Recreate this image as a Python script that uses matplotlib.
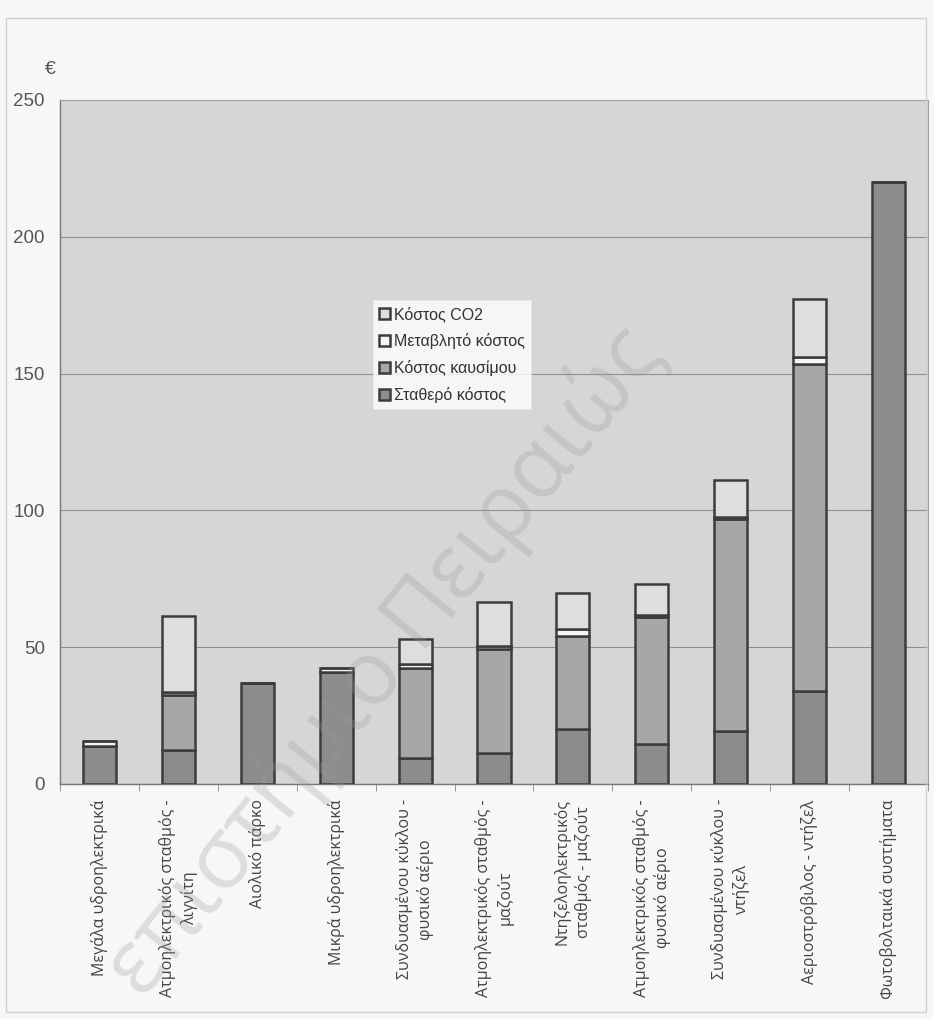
import matplotlib
matplotlib.use("Agg")
import matplotlib.pyplot as plt
import numpy as np
from matplotlib.patches import Rectangle

# Cost components (€) per generation technology
categories = [
    "Μεγάλα υδροηλεκτρικά",
    "Ατμοηλεκτρικός σταθμός -\nλιγνίτη",
    "Αιολικό πάρκο",
    "Μικρά υδροηλεκτρικά",
    "Συνδυασμένου κύκλου -\nφυσικό αέριο",
    "Ατμοηλεκτρικός σταθμός -\nμαζούτ",
    "Ντηζελοηλεκτρικός\nσταθμός - μαζούτ",
    "Ατμοηλεκτρικός σταθμός -\nφυσικό αέριο",
    "Συνδυασμένου κύκλου -\nντήζελ",
    "Αεριοστρόβιλος - ντήζελ",
    "Φωτοβολταικά συστήματα",
]
fixed_cost = [14, 12.4, 37, 41, 9.5, 11.2, 20, 14.6, 19.5, 34, 220]
fuel_cost = [0, 20, 0, 0, 33, 38.2, 34, 46.5, 77.5, 119.5, 0]
variable_cost = [1.6, 1.1, 0, 1.4, 1.5, 1.1, 2.7, 0.5, 0.5, 2.6, 0]
co2_cost = [0, 28, 0, 0, 9, 16.2, 13.2, 11.5, 13.5, 21, 0]

series_names = ["Σταθερό κόστος", "Κόστος καυσίμου", "Μεταβλητό κόστος", "Κόστος CO2"]
yticks = [0, 50, 100, 150, 200, 250]

colors = ["#8c8c8c", "#a7a7a7", "#f6f6f6", "#dedede"]
edge = "#3c3c3c"

fig = plt.figure(figsize=(9.34, 10.19), dpi=100)
fig.patch.set_facecolor("#f7f7f7")

# outer chart-area frame
fig.patches.append(Rectangle((6 / 934, 1 - 1012 / 1019), 920 / 934, 994 / 1019,
                             transform=fig.transFigure, fill=False,
                             edgecolor="#d2d2d2", linewidth=1.0))

ax = fig.add_axes([60 / 934, 1 - 784 / 1019, 868 / 934, 684 / 1019])
ax.set_facecolor("#d6d6d6")

x = np.arange(len(categories))
w = 0.42
bottom = np.zeros(len(categories))
handles = []
for vals, name, col in zip([fixed_cost, fuel_cost, variable_cost, co2_cost], series_names, colors):
    vals = np.array(vals, dtype=float)
    b = ax.bar(x, vals, w, bottom=bottom, color=col, edgecolor=edge,
               linewidth=1.8, label=name, zorder=3)
    handles.append(b)
    bottom += vals

ax.set_xlim(-0.5, len(categories) - 0.5)
ax.set_ylim(0, 250)
ax.set_yticks(yticks)
ax.set_yticklabels([str(t) for t in yticks], fontsize=13.5, color="#555555",
                   family="Liberation Sans")
ax.yaxis.grid(True, color="#8f8f8f", linewidth=0.8, zorder=0)
ax.set_axisbelow(True)
ax.tick_params(axis="y", length=0, pad=11)

ax.set_xticks(x)
ax.set_xticklabels(categories, rotation=90, fontsize=11.5, color="#444444",
                   family="Open Sans", va="top", ha="center",
                   multialignment="center", linespacing=1.35)
ax.tick_params(axis="x", length=0, pad=11)
ax.set_xticks(np.arange(-0.5, len(categories), 1.0), minor=True)
ax.tick_params(axis="x", which="minor", length=5, color="#888888", direction="out")

for side in ["top", "right"]:
    ax.spines[side].set_color("#a0a0a0")
    ax.spines[side].set_linewidth(0.8)
ax.spines["left"].set_color("#777777")
ax.spines["bottom"].set_color("#777777")
ax.spines["left"].set_linewidth(1.0)
ax.spines["bottom"].set_linewidth(1.0)

fig.text(45 / 934, 1 - 70 / 1019, "€", fontsize=14, color="#555555",
         family="Liberation Sans", ha="left", va="center")

leg = ax.legend(handles[::-1], series_names[::-1], loc="upper left",
                bbox_to_anchor=(305 / 868, 1 - 192 / 684), frameon=True,
                prop={"family": "Liberation Sans", "size": 11.5},
                handlelength=0.65, handleheight=0.65, handletextpad=0.25,
                labelspacing=0.68, borderpad=0.4, fancybox=False)
leg.get_frame().set_facecolor("white")
leg.get_frame().set_edgecolor("#e8e8e8")
leg.get_frame().set_linewidth(0.5)
for t in leg.get_texts():
    t.set_color("#333333")

# faint library watermark across the page
fig.text(385 / 934, 1 - 662 / 1019, "επιστήμιο Πειραιώς", fontsize=64,
         rotation=51, color="#9a9a9a", alpha=0.28, ha="center", va="center",
         family="Open Sans", zorder=10)

fig.savefig("out.png", dpi=100, facecolor=fig.get_facecolor())
